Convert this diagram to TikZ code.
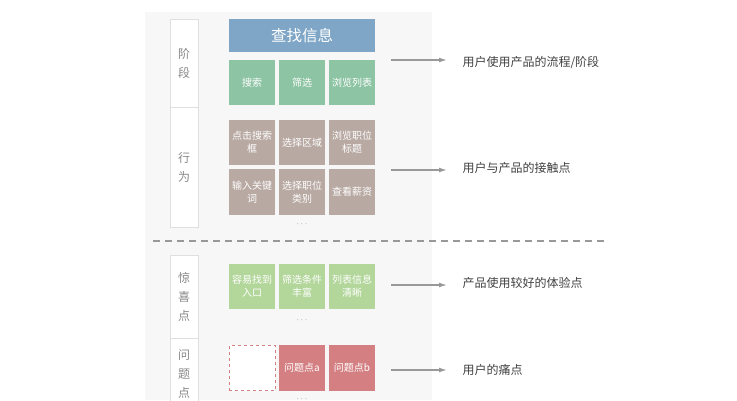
\documentclass[tikz,border=0pt]{standalone}
\usepackage{fontspec}
\setmainfont{Noto Sans CJK SC}
\usepackage{tikz}
\usetikzlibrary{arrows.meta}
\definecolor{panelgray}{HTML}{F7F7F7}
\definecolor{headblue}{HTML}{7FA6C6}
\definecolor{stagegreen}{HTML}{8DC4A4}
\definecolor{actbrown}{HTML}{B8A9A3}
\definecolor{joygreen}{HTML}{B3D69B}
\definecolor{painred}{HTML}{D48083}
\definecolor{labelgray}{HTML}{888888}
\definecolor{linegray}{HTML}{999999}
\tikzset{
  cell/.style={minimum width=46pt, minimum height=45.5pt, inner sep=0pt, align=center,
    text=white, font=\fontsize{10}{13}\selectfont},
  rowlabel/.style={draw=gray!25, fill=white, minimum width=27.5pt, inner sep=0pt,
    align=center, text=labelgray, font=\fontsize{12}{19}\selectfont},
  note/.style={anchor=west, text=black!75, font=\fontsize{12}{14}\selectfont},
  pointer/.style={draw=linegray, line width=1.3pt, -{Latex[length=8pt,width=5pt]}},
  more/.style={text=labelgray, font=\fontsize{9}{9}\selectfont}
}

\begin{document}
\begin{tikzpicture}[x=1pt,y=-1pt]
  \useasboundingbox (0,0) rectangle (737,400);
  \fill[panelgray] (145,12) rectangle (432,400);

  % left column
  \node[rowlabel, minimum height=88pt] (stage) at (184,63) {阶\\段};
  \node[rowlabel, minimum height=120pt] (act) at (184,167) {行\\为};
  \node[rowlabel, minimum height=83pt] (joy) at (184,296.5) {惊\\喜\\点};
  \begin{scope}
    \clip (145,330) rectangle (432,400);
    \node[rowlabel, minimum height=80pt] (pain) at (184,378) {};
  \end{scope}
  \node[text=labelgray, font=\fontsize{12}{19}\selectfont, align=center] (painlbl) at (184,374) {问\\题\\点};

  % stage
  \node[fill=headblue, minimum width=146pt, minimum height=33pt, text=white,
    font=\fontsize{15.5}{15.5}\selectfont] (find) at (302,35.5) {查找信息};
  \node[cell, fill=stagegreen] (s1) at (252,82.5) {搜索};
  \node[cell, fill=stagegreen] (s2) at (302,82.5) {筛选};
  \node[cell, fill=stagegreen] (s3) at (352,82.5) {浏览列表};

  % behaviour
  \node[cell, fill=actbrown] (a1) at (252,142.5) {点击搜索\\框};
  \node[cell, fill=actbrown] (a2) at (302,142.5) {选择区域};
  \node[cell, fill=actbrown] (a3) at (352,142.5) {浏览职位\\标题};
  \node[cell, fill=actbrown] (a4) at (252,192) {输入关键\\词};
  \node[cell, fill=actbrown] (a5) at (302,192) {选择职位\\类别};
  \node[cell, fill=actbrown] (a6) at (352,192) {查看薪资};
  \node[more] (dots1) at (302,224) {$\cdots$};

  \draw[linegray, line width=1.2pt, dash pattern=on 7pt off 5pt] (153,241) -- (605,241);

  % surprise
  \node[cell, fill=joygreen] (j1) at (252,286.5) {容易找到\\入口};
  \node[cell, fill=joygreen] (j2) at (302,286.5) {筛选条件\\丰富};
  \node[cell, fill=joygreen] (j3) at (352,286.5) {列表信息\\清晰};
  \node[more] (dots2) at (302,320) {$\cdots$};

  % problems
  \node[cell, fill=white, draw=painred, dashed, line width=1pt] (p0) at (252,368) {};
  \node[cell, fill=painred] (p1) at (302,368) {问题点a};
  \node[cell, fill=painred] (p2) at (352,368) {问题点b};
  \node[more] (dots3) at (302,399) {$\cdots$};

  % notes
  \node[note] (n1) at (459,62) {用户使用产品的流程/阶段};
  \node[note] (n2) at (459,168) {用户与产品的接触点};
  \node[note] (n3) at (459,283) {产品使用较好的体验点};
  \node[note] (n4) at (459,370) {用户的痛点};
  \coordinate (t1) at (391,60);
  \coordinate (t2) at (391,170);
  \coordinate (t3) at (391,285);
  \coordinate (t4) at (391,370);
  \draw[pointer] (t1) -- ([xshift=-12pt]t1 -| n1.west);
  \draw[pointer] (t2) -- ([xshift=-12pt]t2 -| n2.west);
  \draw[pointer] (t3) -- ([xshift=-12pt]t3 -| n3.west);
  \draw[pointer] (t4) -- ([xshift=-12pt]t4 -| n4.west);
\end{tikzpicture}
\end{document}
